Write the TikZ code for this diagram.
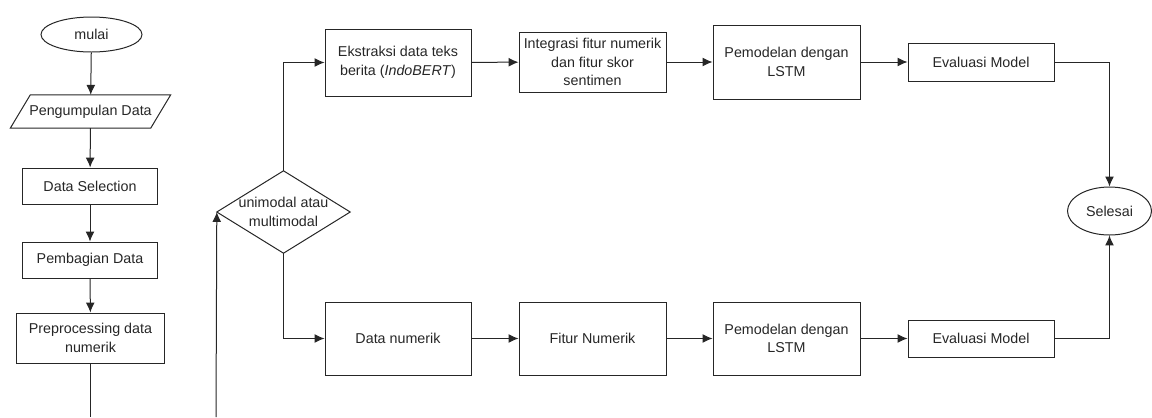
\documentclass[tikz,border=0pt]{standalone}
\usepackage{fontspec}
\setmainfont{Liberation Sans}
\usetikzlibrary{arrows.meta,shapes.geometric,calc}
\definecolor{lc}{gray}{0.15}
\begin{document}
\begin{tikzpicture}[x=1bp,y=1bp,
  every node/.style={font=\fontsize{14.3bp}{18.5bp}\selectfont, align=center, inner sep=0pt, text=lc},
  ln/.style={draw=lc, line width=1bp},
  arr/.style={draw=lc, line width=1bp, -{Latex[length=10pt,width=9pt]}},
  box/.style={draw=lc, line width=1bp, rectangle},
  term/.style={draw=lc, line width=1bp, ellipse},
  ghost/.style={rectangle}
]
\useasboundingbox (0,0) rectangle (1152,-417);
% left column
\node[term, minimum width=101bp, minimum height=35bp] (start) at (91.5,-34.5) {mulai};
\node[ghost, minimum width=140bp, minimum height=33bp] (pg) at (90.5,-111.5) {Pengumpulan Data};
\draw[ln] ($(pg.north west)+(10,0)$) -- ($(pg.north east)+(10,0)$) -- ($(pg.south east)+(-10,0)$) -- ($(pg.south west)+(-10,0)$) -- cycle;
\node[box, minimum width=134bp, minimum height=36bp] (sel) at (90,-186) {Data Selection};
\node[box, minimum width=134bp, minimum height=36bp] (bag) at (90,-260) {Pembagian Data};
\node[box, minimum width=147bp, minimum height=50bp] (pre) at (90.5,-338) {Preprocessing data\\numerik};
\coordinate (c1) at (90.5,-417);
\coordinate (c2) at (216,-417);
\draw[arr] (start) -- (pg);
\draw[arr] (pg) -- (sel);
\draw[arr] (sel) -- (bag);
\draw[arr] (bag) -- (pre);
\draw[ln] (pre.south) -- (c1);
% decision
\node[ghost, minimum width=133bp, minimum height=82bp] (dia) at (283.5,-212) {unimodal atau\\multimodal};
\draw[ln] (dia.north) -- (dia.east) -- (dia.south) -- (dia.west) -- cycle;
\draw[arr] (c2) -- (dia.west);
% top row
\node[box, minimum width=146bp, minimum height=67bp] (ek) at (398,-62.5) {Ekstraksi data teks\\berita (\textit{IndoBERT})};
\node[box, minimum width=147bp, minimum height=60bp] (integ) at (592.5,-62) {Integrasi fitur numerik\\dan fitur skor\\sentimen};
\node[box, minimum width=147bp, minimum height=74bp] (pemA) at (786.5,-62) {Pemodelan dengan\\LSTM};
\node[box, minimum width=146bp, minimum height=38bp] (evA) at (981,-62) {Evaluasi Model};
% bottom row
\node[box, minimum width=146bp, minimum height=73bp] (dn) at (398,-338.5) {Data numerik};
\node[box, minimum width=147bp, minimum height=73bp] (fit) at (592.5,-338.5) {Fitur Numerik};
\node[box, minimum width=147bp, minimum height=73bp] (pemB) at (786.5,-338.5) {Pemodelan dengan\\LSTM};
\node[box, minimum width=146bp, minimum height=37bp] (evB) at (981,-338.5) {Evaluasi Model};
% end
\node[term, minimum width=84bp, minimum height=48bp] (fin) at (1109.5,-211) {Selesai};
% connectors
\draw[arr] (dia.north) |- (ek.west);
\draw[arr] (dia.south) |- (dn.west);
\draw[arr] (ek) -- (integ);
\draw[arr] (integ) -- (pemA);
\draw[arr] (pemA) -- (evA);
\draw[arr] (evA.east) -| (fin.north);
\draw[arr] (dn) -- (fit);
\draw[arr] (fit) -- (pemB);
\draw[arr] (pemB) -- (evB);
\draw[arr] (evB.east) -| (fin.south);
\end{tikzpicture}
\end{document}
